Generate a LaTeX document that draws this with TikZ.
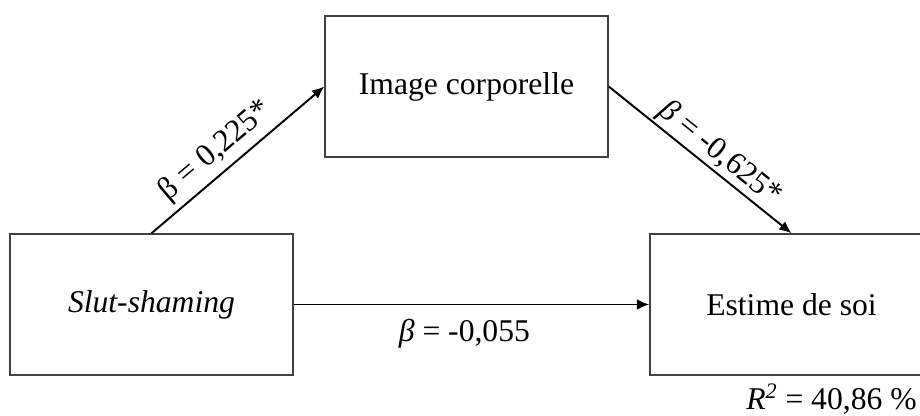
\documentclass[tikz,border=0pt]{standalone}
\usepackage{fontspec}
\setmainfont{Liberation Serif}
\usetikzlibrary{arrows.meta}
\definecolor{boxline}{RGB}{64, 64, 64}
\tikzset{
    every node/.style={font=\fontsize{18}{22}\selectfont},
    varbox/.style={draw=boxline, line width=0.85pt, minimum width=5.66cm,
        minimum height=2.82cm, inner sep=0pt},
    path/.style={-{Latex[length=7pt, width=6pt]}, line width=1.1pt},
}
\begin{document}
\begin{tikzpicture}
            \clip (0, 0) rectangle (18.4, 8.3); % page is the reference frame
            \node[varbox] (slut) at (3.03, 2.21) {\textit{Slut-shaming}};
            \node[varbox] (image) at (9.33, 6.57) {Image corporelle};
            \node[varbox] (estime) at (15.83, 2.21) {Estime de soi};
            \draw[path] (slut.north) -- (image.west) node[sloped, above,
                pos=0.45] {β = 0,225*};
            \draw[path] (image.east) -- (estime.north) node[sloped, above=1pt,
                pos=0.55, inner sep=0pt] {\textit{β} = -0,625*};
            \draw[path] (slut.east) -- (estime.west) node[below=8pt, pos=0.48,
                inner sep=0pt] {\textit{β} = -0,055};
            \node[below=1pt, xshift=0.8cm] (rsq) at (estime.south)
                {\textit{R}\textsuperscript{\textit{2}} = 40,86 \%};
        \end{tikzpicture}
\end{document}
